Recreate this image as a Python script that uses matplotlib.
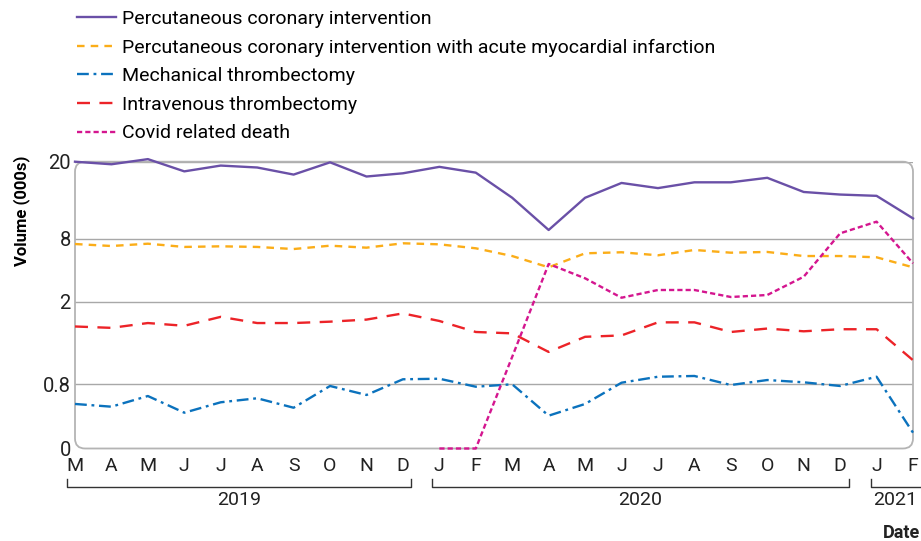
import numpy as np
import matplotlib
matplotlib.use("Agg")
import matplotlib.pyplot as plt
from matplotlib.patches import FancyBboxPatch, BoxStyle

plt.rcParams['font.family'] = ['Roboto', 'DejaVu Sans']

# monthly volumes (thousands), Mar 2019 - Feb 2021
months = ['M', 'A', 'M', 'J', 'J', 'A', 'S', 'O', 'N', 'D',
          'J', 'F', 'M', 'A', 'M', 'J', 'J', 'A', 'S', 'O', 'N', 'D',
          'J', 'F']
pci = [20.0, 19.6, 20.4, 18.5, 19.4, 19.1, 18.0, 19.9, 17.7, 18.2,
       19.2, 18.3, 14.4, 9.4, 14.4, 16.7, 15.9, 16.8, 16.8, 17.5, 15.3, 14.9,
       14.7, 11.2]
pci_ami = [7.52, 7.33, 7.55, 7.24, 7.30, 7.24, 7.04, 7.36, 7.17, 7.59,
           7.49, 7.11, 6.37, 5.29, 6.63, 6.73, 6.44, 6.95, 6.69, 6.76, 6.37, 6.37,
           6.25, 5.29]
mech_thromb = [0.555, 0.521, 0.654, 0.446, 0.576, 0.626, 0.508, 0.779, 0.667, 0.873,
               0.881, 0.77, 0.80, 0.409, 0.555, 0.823, 0.91, 0.921, 0.791, 0.862, 0.829, 0.779,
               0.91, 0.197]
iv_thromb = [1.64, 1.62, 1.69, 1.65, 1.78, 1.69, 1.69, 1.71, 1.74, 1.83,
             1.72, 1.56, 1.54, 1.27, 1.49, 1.51, 1.70, 1.70, 1.56, 1.61, 1.57, 1.60,
             1.60, 1.15]
covid = [np.nan] * 10 + [0, 0, 1.2, 5.61, 4.24, 2.38, 3.12, 3.12, 2.45, 2.64, 4.39, 8.88,
                         10.69, 5.67]
years = ['2019', '2020', '2021']

y_ticks = [0, 0.8, 2, 8, 20]
y_tick_labels = ['0', '0.8', '2', '8', '20']

# axis is stretched unevenly between the gridlines
scale_vals = [-1, 0, 0.8, 2, 8, 20, 40]
scale_pos = [-80, 0, 64.2, 146.8, 209.5, 286.8, 415.6]


def fwd(v):
    return np.interp(v, scale_vals, scale_pos)


def inv(p):
    return np.interp(p, scale_pos, scale_vals)


fig = plt.figure(figsize=(9.21, 5.41), dpi=100)
ax = fig.add_axes([75 / 921, 1 - 448.5 / 541, 838 / 921, 286.8 / 541])
ax.set_yscale('function', functions=(fwd, inv))

x = np.arange(len(months))
series = [
    (pci, 'Percutaneous coronary intervention', '#6a50a7', '-'),
    (pci_ami, 'Percutaneous coronary intervention with acute myocardial infarction', '#fbad18', (0, (3.2, 2.6))),
    (mech_thromb, 'Mechanical thrombectomy', '#0b72bd', (0, (5, 2, 1.2, 2))),
    (iv_thromb, 'Intravenous thrombectomy', '#ec2328', (0, (5.5, 4))),
    (covid, 'Covid related death', '#d4168f', (0, (2.2, 1.3))),
]
handles = []
for vals, label, color, ls in series:
    h, = ax.plot(x, vals, color=color, linestyle=ls, linewidth=1.7, label=label,
                 clip_on=False, zorder=3)
    handles.append(h)

ax.set_xlim(0, len(months) - 1)
ax.set_ylim(0, 20)

for v in y_ticks[1:]:
    ax.axhline(v, color='#a8a8a8', linewidth=1.0, zorder=1)

for s in ax.spines.values():
    s.set_visible(False)
frame = FancyBboxPatch((0, 0), 1, 1, transform=ax.transAxes,
                       boxstyle=BoxStyle('Round', pad=0, rounding_size=0.012),
                       mutation_aspect=838 / 286.8, facecolor='none',
                       edgecolor='#b4b4b4', linewidth=1.3, zorder=2, clip_on=False)
ax.add_patch(frame)

ax.set_xticks(x)
ax.set_xticklabels(months, fontsize=14, color='#222222')
ax.set_xticks(x[1:-1], minor=True)
ax.tick_params(axis='x', which='major', length=0, pad=6)
ax.tick_params(axis='x', which='minor', length=6, direction='in', color='#8c8c8c', width=0.9)

ax.set_yticks(y_ticks)
ax.set_yticklabels(y_tick_labels, fontsize=14.5, color='#222222')
ax.tick_params(axis='y', length=0, pad=3)
ax.set_ylabel('Volume (000s)', fontsize=12, fontweight='bold')
ax.yaxis.set_label_coords(-0.054, 0.83)

# year brackets under the month labels
trans = ax.get_xaxis_transform()
brackets = [(-0.22, 9.22), (9.8, 21.25), (21.85, 23.3)]
year_x = [4.5, 15.5, 22.5]
for (x0, x1), yr, xc in zip(brackets, years, year_x):
    if yr == '2021':
        bx, by = [x0, x0, x1], [-0.106, -0.134, -0.134]
    else:
        bx, by = [x0, x0, x1, x1], [-0.106, -0.134, -0.134, -0.106]
    ax.plot(bx, by, color='#333333', linewidth=1.0, transform=trans, clip_on=False)
    ax.text(xc, -0.18, yr, transform=trans, ha='center', va='center',
            fontsize=14, color='#222222')

fig.text(0.999, 1 - 533 / 541, 'Date', ha='right', va='center', fontsize=13,
         fontweight='bold', color='#222222')

fig.legend(handles=handles, loc='upper left', bbox_to_anchor=(68 / 921, 0.998),
           frameon=False, fontsize=14, handlelength=2.0, handletextpad=0.35,
           labelspacing=0.545, borderaxespad=0.05)

fig.savefig('out.png', dpi=100)
